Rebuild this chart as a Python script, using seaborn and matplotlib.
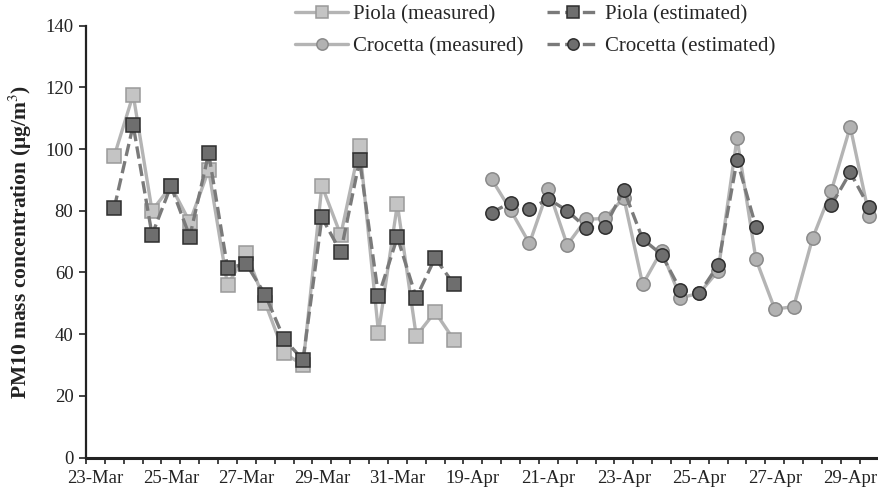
import numpy as np
import pandas as pd
import matplotlib
matplotlib.use("Agg")
import matplotlib.pyplot as plt
import seaborn as sns

# ---- data ----
# 42 half-day categories; labels shown every 4th category
tick_labels = ["23-Mar", "25-Mar", "27-Mar", "29-Mar", "31-Mar", "19-Apr",
               "21-Apr", "23-Apr", "25-Apr", "27-Apr", "29-Apr"]
n_categories = 42

piola_idx = list(range(1, 20))
piola_measured = [97.8, 117.6, 80.0, 88.0, 76.3, 93.2, 55.9, 66.3, 50.0, 33.8,
                  30.0, 88.1, 72.1, 100.9, 40.5, 82.1, 39.4, 47.2, 38.1]
piola_estimated = [81.0, 107.7, 72.2, 88.0, 71.6, 98.6, 61.5, 62.7, 52.7, 38.4,
                   31.6, 77.8, 66.6, 96.4, 52.3, 71.4, 51.8, 64.7, 56.1]

crocetta_idx = list(range(21, 42))
crocetta_measured = [90.2, 80.2, 69.4, 87.0, 68.9, 77.2, 77.5, 84.2, 56.1, 67.0,
                     51.8, 53.2, 60.5, 103.5, 64.3, 48.1, 48.9, 71.0, 86.5, 107.2, 78.4]
crocetta_estimated = [79.4, 82.6, 80.5, 83.8, 80.0, 74.5, 74.8, 86.7, 70.8, 65.8,
                      54.3, 53.2, 62.4, 96.4, 74.8, np.nan, np.nan, np.nan, 81.8, 92.4, 81.1]

# ---- style ----
sns.set_style("white")
plt.rcParams["font.family"] = ["Liberation Serif", "DejaVu Serif"]
plt.rcParams["mathtext.fontset"] = "stix"

fig = plt.figure(figsize=(8.79, 4.87), dpi=100)
ax = fig.add_axes([86 / 879, 29.5 / 487, 1 - 86 / 879 - 0.0005, (457.5 - 25.6) / 487])

meas_line = "#b4b4b4"
meas_sq_face = "#c4c4c4"
meas_sq_edge = "#9a9a9a"
meas_ci_face = "#b2b2b2"
meas_ci_edge = "#8a8a8a"
est_line = "#7a7a7a"
est_face = "#6e6e6e"
est_edge = "#2e2e2e"
lw = 2.4
dash = (3.2, 1.9)
ms = 9.6


def segments(xs, ys):
    seg_x, seg_y = [], []
    for x, y in zip(xs, ys):
        if np.isnan(y):
            if seg_x:
                yield seg_x, seg_y
            seg_x, seg_y = [], []
        else:
            seg_x.append(x)
            seg_y.append(y)
    if seg_x:
        yield seg_x, seg_y


def draw(idx, vals, label, marker, face, edge, line, dashed, z):
    xs = [i + 0.5 for i in idx]
    first = True
    for sx, sy in segments(xs, vals):
        df = pd.DataFrame({"x": sx, "y": sy})
        kw = dict(dashes=dash) if dashed else dict()
        sns.lineplot(data=df, x="x", y="y", ax=ax, sort=False, estimator=None,
                     color=line, linewidth=lw, marker=marker, markersize=ms,
                     markerfacecolor=face, markeredgecolor=edge, markeredgewidth=1.1,
                     linestyle="--" if dashed else "-",
                     label=label if first else None, zorder=z, legend=False, **kw)
        first = False


draw(piola_idx, piola_measured, "Piola (measured)", "s", meas_sq_face, meas_sq_edge,
     meas_line, False, 2)
draw(piola_idx, piola_estimated, "Piola (estimated)", "s", est_face, est_edge,
     est_line, True, 3)
draw(crocetta_idx, crocetta_measured, "Crocetta (measured)", "o", meas_ci_face, meas_ci_edge,
     meas_line, False, 2)
draw(crocetta_idx, crocetta_estimated, "Crocetta (estimated)", "o", est_face, est_edge,
     est_line, True, 3)

# ---- axes ----
ax.set_xlim(0, n_categories)
ax.set_ylim(0, 140)
ax.set_yticks(np.arange(0, 141, 20))
ax.tick_params(axis="y", which="major", length=5, width=1.2, direction="out",
               labelsize=13.5, colors="#222222", pad=4, left=True)
ax.set_xticks([i * 4 + 0.5 for i in range(len(tick_labels))])
ax.set_xticklabels(tick_labels)
ax.set_xticks(np.arange(0, n_categories + 1), minor=True)
ax.tick_params(axis="x", which="major", length=0, labelsize=13.5, colors="#222222", pad=9)
ax.tick_params(axis="x", which="minor", length=4.3, width=1.2, direction="out",
               color="#222222", bottom=True)
ax.set_xlabel("")
ax.set_ylabel("PM10 mass concentration (μg/m$^3$)", fontsize=15.5, fontweight="bold",
              color="#222222", labelpad=8)

for s in ["top", "right"]:
    ax.spines[s].set_visible(False)
for s in ["left", "bottom"]:
    ax.spines[s].set_color("#222222")
ax.spines["left"].set_linewidth(1.6)
ax.spines["bottom"].set_linewidth(2.2)
ax.grid(False)

handles, labels = ax.get_legend_handles_labels()
order = ["Piola (measured)", "Crocetta (measured)", "Piola (estimated)", "Crocetta (estimated)"]
hmap = dict(zip(labels, handles))
fig.legend([hmap[k] for k in order], order, loc="upper left",
           bbox_to_anchor=(295 / 879, 1 - 5 / 487), ncol=2, frameon=False,
           fontsize=15, handlelength=2.55, columnspacing=1.1, labelspacing=0.6,
           handletextpad=0.25, borderpad=0, borderaxespad=0, markerscale=0.85)

fig.savefig("out.png", dpi=100)
